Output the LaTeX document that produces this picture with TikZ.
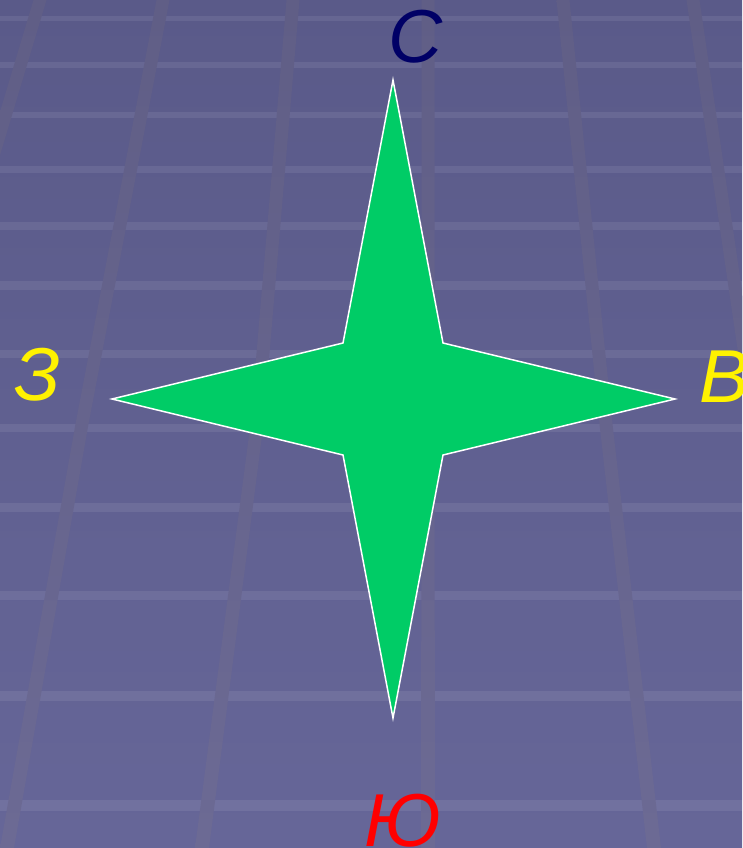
\documentclass[tikz,border=0pt]{standalone}
\usepackage{fontspec}
\setmainfont{Liberation Sans}
\definecolor{bgtop}{RGB}{90,90,137}
\definecolor{bgbot}{RGB}{102,102,152}
\definecolor{vltop}{RGB}{96,94,134}
\definecolor{vlbot}{RGB}{108,106,148}
\definecolor{stargreen}{RGB}{0,204,102}
\definecolor{navyblue}{RGB}{0,0,102}
\begin{document}
\begin{tikzpicture}[x=1pt,y=-1pt,
  hband/.style={fill=white,fill opacity=0.08},
  vband/.style={top color=vltop,bottom color=vlbot},
  lbl/.style={inner sep=0pt,outer sep=0pt,anchor=base west,font=\fontsize{75}{80}\selectfont\itshape}]
\useasboundingbox (0,0) rectangle (742,848);
\clip (0,0) rectangle (742,848);
\shade[top color=bgtop,bottom color=bgbot] (0,0) rectangle (742,848);
\foreach \yc/\t in {18.5/5,65/6,115/6,169/7,225.5/8,285/9,354/8,428/8,507.5/9,595/9,695.5/10,805/11}
  \fill[hband] (0,{\yc-\t/2}) rectangle (742,{\yc+\t/2});
\foreach \a/\b/\c in {40/-87/-214,163/82/7,293/257/202,428/428/428,563/606/654,693/755/817}
  \shade[vband] ({\a-6.5},0) -- ({\a+6.5},0) -- ({\b+6.5},424) -- ({\c+7},848) -- ({\c-7},848) -- ({\b-6.5},424) -- cycle;
\coordinate (T) at (393,80);
\coordinate (R) at (675,399);
\coordinate (B) at (393,718);
\coordinate (L) at (112,399);
\coordinate (ur) at (443,343);
\coordinate (lr) at (443,455);
\coordinate (ll) at (343,455);
\coordinate (ul) at (343,343);
\filldraw[fill=stargreen,draw=white,line width=1.5pt] (T) -- (ur) -- (R) -- (lr) -- (B) -- (ll) -- (L) -- (ul) -- cycle;
\node[lbl,text=navyblue] (north) at (388,63) {С};
\node[lbl,text=yellow] (west) at (14,400) {З};
\node[lbl,text=yellow] (east) at (699,402) {В};
\node[lbl,text=red] (south) at (364,846) {Ю};
\end{tikzpicture}
\end{document}
